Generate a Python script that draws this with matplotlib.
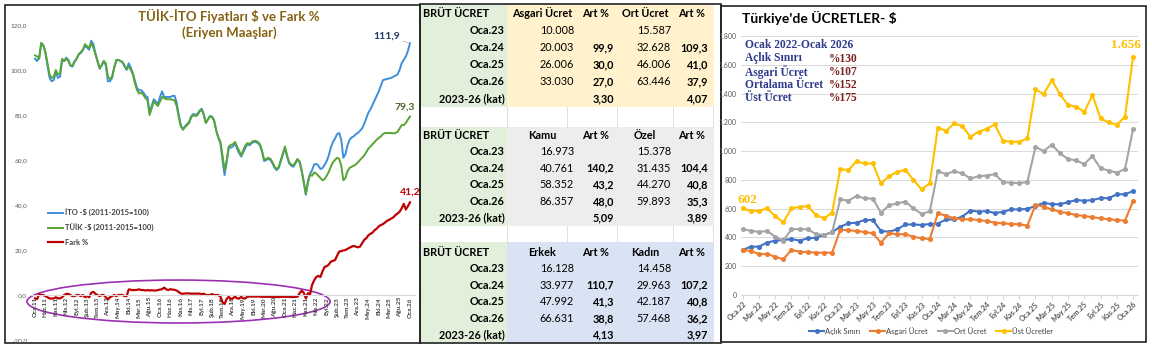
import matplotlib
matplotlib.use("Agg")
import matplotlib.pyplot as plt
from matplotlib.patches import Ellipse, Rectangle
from matplotlib.ticker import FuncFormatter

plt.rcParams['font.family'] = ['Lato', 'DejaVu Sans']

W, H = 1152, 347

# ---- left chart: TÜİK / İTO dollar prices (2011-2015=100), monthly Oca.11 - Oca.26
ito = [105, 104, 105.5, 112, 111, 107.5, 102, 96.5, 95, 95.5,
       99, 96.5, 97, 104, 104, 105.5, 104.5, 102, 101.5, 103.5,
       105, 107, 107.5, 109, 110.5, 110, 109, 113, 111.5, 107.5,
       104, 100.5, 102, 104, 102, 95, 95, 96.5, 101, 104,
       104.5, 104, 103.5, 101.5, 100, 103, 101, 98.5, 95, 92,
       91, 91, 90, 88.5, 88, 81, 84, 87, 86, 85,
       88, 90.5, 88, 88, 88, 88, 88.5, 88.5, 85.5, 80,
       75.5, 73.5, 75, 76, 77, 79.5, 80.5, 80, 80.5, 82,
       82.8, 80.5, 76.5, 78, 79.5, 79.3, 77.5, 73, 70, 67.5,
       60, 53.3, 59, 65.5, 65.5, 66, 67.5, 65, 63, 61.5,
       63.5, 65.5, 67, 66.5, 67.5, 68, 68, 67.5, 66.5, 63.5,
       59.5, 60, 60.5, 60, 58.5, 56.5, 55.5, 56.5, 59.5, 62.5,
       65.5, 61.5, 58.5, 57.5, 57, 58.5, 60, 59.5, 55.5, 50.5,
       44.5, 50.5, 53.7, 55.5, 58, 58.3, 57.5, 56, 56.4, 57.8,
       59.5, 62, 65.5, 68, 69.5, 71.5, 72, 69, 61, 62.5,
       66.5, 69, 70, 70.5, 71.5, 72, 73, 74, 76, 78.5,
       81, 82.5, 84.5, 86.5, 88.5, 90.5, 93, 95.5, 95.8, 96,
       96.3, 96.5, 97, 97.5, 98, 100, 103, 104.5, 106, 108.5,
       111.9]

tuik = [106.5, 106, 105, 112, 111, 108, 103, 98, 96.5, 97,
        100, 98, 98.5, 105, 104, 105, 104, 102, 102, 104,
        105, 107, 108, 109, 111.5, 110.5, 110, 112, 110, 107,
        104, 101, 102, 104, 103, 97, 96, 97, 101, 104.5,
        104.5, 104, 103.5, 102, 100.5, 101.5, 100, 98, 94, 91,
        89.5, 90, 89, 87.5, 86.5, 80, 83, 86, 85, 84,
        86, 88, 87.5, 87, 87, 87, 86.8, 86.5, 84, 79,
        75, 73.5, 74.5, 75.5, 76.5, 79, 80, 79.5, 80, 81.5,
        82.5, 80, 76.5, 78, 79.5, 79, 77.5, 73, 70, 68,
        62, 55.5, 60, 66, 66.7, 67, 68, 66, 64, 62,
        64.5, 66.5, 67.5, 67, 68, 68.5, 68.5, 68, 67, 64,
        60, 60.5, 61, 60.5, 59, 57, 56, 57, 60, 63,
        66, 62, 59, 58, 57.5, 59, 60.5, 59, 55, 50,
        45, 50, 53.5, 53, 54.5, 54, 53, 52, 51, 51.5,
        53, 54.7, 57, 59, 60, 61, 60.5, 57.5, 51, 52,
        55, 56.5, 57, 57.5, 58, 59, 60, 61, 62, 63.5,
        65, 66, 67, 68, 69, 69.8, 70.5, 71.5, 72, 72,
        72, 72, 71.8, 72, 72.5, 74, 75.5, 75.5, 76.5, 78,
        79.3]

fark = [-1.5, -1.8, 0.4, 0, 0, -0.5, -1, -1.5, -1.6, -1.5,
        -1, -1.5, -1.5, -1, 0, 0.5, 0.5, 0, -0.5, -0.5,
        0, 0, -0.5, 0, -1, -0.5, -1, 1, 1.4, 0.5,
        0, -0.5, 0, 0, -1, -2, -1, -0.5, 0, -0.5,
        0, 0, 0, -0.5, -0.5, 2.5, 2.3, 2.2, 2.2, 2.3,
        2.5, 2.2, 2.2, 2, 2.2, 2, 2.1, 2, 2, 2.2,
        2.4, 2.6, 3.3, 2.5, 2.2, 2.6, 2.4, 2.3, 2, 1.3,
        0.7, 0.5, 0.7, 0.7, 0.7, 0.6, 0.6, 0.6, 0.6, 0.6,
        0.4, 0.6, 0, 0, 0, 0.4, 0, 0, 0, -0.7,
        -3.2, -4, -1.7, -0.8, -1.8, -1.5, -0.7, -1.5, -1.6, -0.8,
        -1.6, -1.5, -0.7, -0.7, -0.7, -0.7, -0.7, -0.7, -0.7, -0.8,
        -0.8, -0.8, -0.8, -0.8, -0.8, -0.9, -0.9, -0.9, -0.8, -0.8,
        -0.8, -0.8, -0.8, -0.9, -0.9, -0.8, -0.8, 0.8, 1.9, 1,
        -1.5, 0.8, 0.3, 4.5, 6.5, 8, 8.5, 8, 10.5, 12.5,
        12.8, 13.5, 14.8, 15.2, 15.5, 17.5, 19.3, 19.5, 19.8, 20,
        20.5, 21, 21.5, 21.8, 21.5, 21.2, 21.5, 23, 24.5, 25.2,
        26.5, 27.2, 27.7, 28.8, 29.5, 30.5, 31.1, 31.5, 32.2, 33,
        33.4, 34, 34.5, 35.5, 36.2, 37, 38.5, 40.5, 38, 39.5,
        41.2]

left_labels = ["Oca.11", "Haz.11", "Kas.11", "Nis.12", "Eyl.12", "Şub.13", "Tem.13", "Ara.13",
               "May.14", "Eki.14", "Mar.15", "Ağu.15", "Oca.16", "Haz.16", "Kas.16", "Nis.17",
               "Eyl.17", "Şub.18", "Tem.18", "Ara.18", "May.19", "Eki.19", "Mar.20", "Ağu.20",
               "Oca.21", "Haz.21", "Kas.21", "Nis.22", "Eyl.22", "Şub.23", "Tem.23", "Ara.23",
               "May.24", "Eki.24", "Mar.25", "Ağu.25", "Oca.26"]

# ---- right chart: wages in $, monthly Oca.22 - Oca.26
aclik = [313, 336, 336, 364, 378, 382, 389, 378, 394, 398, 417, 436,
         475, 498, 503, 521, 521, 445, 440, 456, 490, 490, 487, 493,
         496, 525, 525, 545, 587, 580, 582, 570, 578, 595, 595, 598,
         620, 640, 632, 630, 645, 660, 655, 660, 673, 673, 700, 700, 722]
asgari = [313, 306, 285, 285, 266, 248, 313, 301, 299, 294, 294, 294,
          452, 450, 445, 438, 429, 364, 429, 422, 422, 405, 394, 389,
          568, 551, 533, 526, 526, 521, 514, 503, 498, 494, 491, 482,
          626, 614, 595, 579, 568, 556, 549, 540, 533, 526, 521, 517, 653]
ort = [456, 447, 438, 445, 405, 378, 456, 459, 456, 424, 417, 436,
       665, 656, 688, 672, 670, 572, 623, 637, 649, 602, 563, 582,
       860, 840, 860, 845, 810, 825, 830, 840, 785, 780, 778, 785,
       1030, 1000, 1045, 985, 945, 935, 910, 965, 880, 865, 850, 875, 1155]
ust = [602, 584, 584, 602, 549, 505, 602, 612, 618, 556, 533, 572,
       875, 868, 930, 914, 914, 776, 825, 856, 870, 800, 734, 776,
       1164, 1139, 1192, 1174, 1100, 1134, 1155, 1185, 1072, 1065, 1065, 1088,
       1429, 1396, 1494, 1396, 1320, 1308, 1273, 1389, 1227, 1199, 1183, 1239, 1656]

right_labels = ["Oca.22", "Mar.22", "May.22", "Tem.22", "Eyl.22", "Kas.22",
                "Oca.23", "Mar.23", "May.23", "Tem.23", "Eyl.23", "Kas.23",
                "Oca.24", "Mar.24", "May.24", "Tem.24", "Eyl.24", "Kas.24",
                "Oca.25", "Mar.25", "May.25", "Tem.25", "Eyl.25", "Kas.25", "Oca.26"]

box_names = ["Açlık Sınırı", "Asgari Ücret", "Ortalama Ücret", "Üst Ücret"]
box_pcts = [130, 107, 152, 175]

# ---- middle tables
years = ["Oca.23", "Oca.24", "Oca.25", "Oca.26"]
t1_heads = ["Asgari Ücret", "Ort Ücret"]
t1_a = [10008, 20003, 26006, 33030]
t1_a_art = [None, 99.9, 30.0, 27.0]
t1_b = [15587, 32628, 46006, 63446]
t1_b_art = [None, 109.3, 41.0, 37.9]
t1_kat = [3.30, 4.07]

t2_heads = ["Kamu", "Özel"]
t2_a = [16973, 40761, 58352, 86357]
t2_a_art = [None, 140.2, 43.2, 48.0]
t2_b = [15378, 31435, 44270, 59893]
t2_b_art = [None, 104.4, 40.8, 35.3]
t2_kat = [5.09, 3.89]

t3_heads = ["Erkek", "Kadın"]
t3_a = [16128, 33977, 47992, 66631]
t3_a_art = [None, 110.7, 41.3, 38.8]
t3_b = [14458, 29963, 42187, 57468]
t3_b_art = [None, 107.2, 40.8, 36.2]
t3_kat = [4.13, 3.97]


def tr_int(v):
    return f"{v:,}".replace(",", ".")


def tr_dec(v, n=1):
    return f"{v:.{n}f}".replace(".", ",")


fig = plt.figure(figsize=(W / 100, H / 100), dpi=100)


def px_axes(x0, y0, x1, y1, **kw):
    return fig.add_axes([x0 / W, 1 - y1 / H, (x1 - x0) / W, (y1 - y0) / H], **kw)


# pixel canvas for tables and frames
bg = px_axes(0, 0, W, H, zorder=0)
bg.set_xlim(0, W)
bg.set_ylim(H, 0)
bg.axis('off')

tables = [
    (t1_heads, t1_a, t1_a_art, t1_b, t1_b_art, t1_kat, 5, 107, '#FFF2CC', 13),
    (t2_heads, t2_a, t2_a_art, t2_b, t2_b_art, t2_kat, 127, 226, '#EDEDED', 135),
    (t3_heads, t3_a, t3_a_art, t3_b, t3_b_art, t3_kat, 242, 343, '#DAE3F3', 252),
]
fs = 7.8
for heads, a, a_art, b, b_art, kat, top, bot, col, hy in tables:
    bg.add_patch(Rectangle((421, top), 86, bot - top, color='#E2EFDA', lw=0))
    bg.add_patch(Rectangle((507, top), 207, bot - top, color=col, lw=0))
    step = (bot - 8 - hy) / 5
    bg.text(423, hy, "BRÜT ÜCRET", ha='left', va='center', fontsize=fs, weight='bold')
    bg.text(542, hy, heads[0], ha='center', va='center', fontsize=fs, weight='bold')
    bg.text(596, hy, "Art %", ha='center', va='center', fontsize=fs, weight='bold')
    bg.text(645, hy, heads[1], ha='center', va='center', fontsize=fs, weight='bold')
    bg.text(692, hy, "Art %", ha='center', va='center', fontsize=fs, weight='bold')
    for i, yr in enumerate(years):
        y = hy + step * (i + 1)
        bg.text(505, y, yr, ha='right', va='center', fontsize=fs, weight='bold')
        bg.text(574, y, tr_int(a[i]), ha='right', va='center', fontsize=fs)
        bg.text(671, y, tr_int(b[i]), ha='right', va='center', fontsize=fs)
        if a_art[i] is not None:
            bg.text(614, y, tr_dec(a_art[i]), ha='right', va='center', fontsize=fs, weight='bold')
            bg.text(708, y, tr_dec(b_art[i]), ha='right', va='center', fontsize=fs, weight='bold')
    y = hy + step * 5
    bg.text(505, y, "2023-26 (kat)", ha='right', va='center', fontsize=fs, weight='bold')
    bg.text(614, y, tr_dec(kat[0], 2), ha='right', va='center', fontsize=fs, weight='bold')
    bg.text(708, y, tr_dec(kat[1], 2), ha='right', va='center', fontsize=fs, weight='bold')

for gx in [507, 567, 617, 673, 713]:
    bg.plot([gx, gx], [107, 127], color='#D9D9D9', lw=0.6)
    bg.plot([gx, gx], [226, 242], color='#D9D9D9', lw=0.6)

for (x0, y0, x1, y1) in [(5, 5, 420, 343), (420, 4, 721, 343), (721, 6, 1146, 342)]:
    bg.add_patch(Rectangle((x0, y0), x1 - x0, y1 - y0, fill=False, ec='#222222', lw=1.2))

# ---- left chart
ax1 = px_axes(30, 25, 415, 340, zorder=2)
ax1.patch.set_alpha(0)
xm = range(len(ito))
ax1.plot(xm, ito, color='#3F8EDB', lw=1.4, label="İTO -$ (2011-2015=100)")
ax1.plot(xm, tuik, color='#57A532', lw=1.4, label="TÜİK -$ (2011-2015=100)")
ax1.plot(xm, fark, color='#C00000', lw=1.6, label="Fark %")
ax1.set_xlim(-2.4, 182.4)
ax1.set_ylim(-20, 120)
for s in ['top', 'right', 'left']:
    ax1.spines[s].set_visible(False)
ax1.spines['bottom'].set_position(('data', 0))
ax1.spines['bottom'].set_color('#D9D9D9')
ax1.set_xticks(range(0, 181, 5))
ax1.set_xticklabels(left_labels, rotation=90, fontsize=4.6, weight='bold', color='#404040')
ax1.set_yticks(range(-20, 121, 20))
ax1.yaxis.set_major_formatter(FuncFormatter(lambda v, p: tr_dec(v)))
ax1.tick_params(axis='y', length=0, labelsize=4.6, labelcolor='#595959', pad=2)
ax1.tick_params(axis='x', length=0, pad=1.5)
ax1.add_patch(Ellipse((68.9, -2.9), 145.5, 19.1, fill=False, ec='#9B30B0', lw=1.2, clip_on=False))
ax1.legend(loc='upper left', bbox_to_anchor=(48 / W, 1 - 209 / H), bbox_transform=fig.transFigure,
           frameon=False, prop={'size': 5.5, 'weight': 'bold'}, labelcolor='#404040',
           handlelength=2.0, handletextpad=0.2, labelspacing=0.9, borderpad=0, borderaxespad=0)
ax1.annotate(tr_dec(ito[-1]), xy=(180, ito[-1]), xytext=(-7, 5), textcoords='offset points',
             ha='right', va='center', fontsize=7.5, weight='bold', color='#1F3864',
             arrowprops=dict(arrowstyle='-', color='#A6A6A6', lw=0.5, shrinkA=0, shrinkB=0))
ax1.annotate(tr_dec(tuik[-1]), xy=(180, tuik[-1]), xytext=(-4, 7), textcoords='offset points',
             ha='center', va='center', fontsize=7.5, weight='bold', color='#4F6228')
ax1.annotate(tr_dec(fark[-1]), xy=(180, fark[-1]), xytext=(0, 7.6), textcoords='offset points',
             ha='center', va='center', fontsize=7.5, weight='bold', color='#C00000')
fig.text(229 / W, 1 - 16 / H, "TÜİK-İTO Fiyatları $ ve Fark %", ha='center', va='center',
         fontsize=9.5, weight='bold', color='#856212')
fig.text(229 / W, 1 - 33 / H, "(Eriyen Maaşlar)", ha='center', va='center',
         fontsize=9.5, weight='bold', color='#856212')

# ---- right chart
ax2 = px_axes(741, 36, 1138, 295, zorder=2)
ax2.patch.set_alpha(0)
xr = range(len(aclik))
series = [(aclik, '#4472C4', "Açlık Sınırı"), (asgari, '#ED7D31', "Asgari Ücret"),
          (ort, '#A5A5A5', "Ort Ücret"), (ust, '#FFC000', "Üst Ücretler")]
for vals, c, lab in series:
    ax2.plot(xr, vals, color=c, lw=1.5, marker='o', ms=2.6, label=lab)
ax2.set_xlim(-0.2, 48.6)
ax2.set_ylim(0, 1800)
ax2.set_yticks(range(0, 1801, 200))
ax2.yaxis.set_major_formatter(FuncFormatter(lambda v, p: tr_int(int(v))))
ax2.grid(axis='y', color='#D9D9D9', lw=0.7)
ax2.set_axisbelow(True)
for s in ['top', 'right', 'left']:
    ax2.spines[s].set_visible(False)
ax2.spines['bottom'].set_color('#D9D9D9')
ax2.set_xticks(range(0, 49, 2))
ax2.set_xticklabels(right_labels, rotation=45, ha='right', rotation_mode='anchor',
                    fontsize=5.3, weight='bold', color='#595959')
ax2.tick_params(axis='x', length=3, color='#D9D9D9', pad=1)
ax2.tick_params(axis='y', length=0, labelsize=5, labelcolor='#595959', pad=3)
ax2.legend(loc='center', bbox_to_anchor=(931 / W, 1 - 331 / H), bbox_transform=fig.transFigure,
           ncol=4, frameon=False, fontsize=5.5, labelcolor='#404040', handlelength=2.0,
           handletextpad=0.1, columnspacing=1.3, borderpad=0, borderaxespad=0)
fig.text(742 / W, 1 - 18 / H, "Türkiye'de ÜCRETLER- $", ha='left', va='center',
         fontsize=10, weight='bold', color='black')

serif = ['Liberation Serif', 'DejaVu Serif']
fig.text(745 / W, 1 - 45 / H, "Ocak 2022-Ocak 2026", ha='left', va='center', family=serif,
         fontsize=8.3, weight='bold', color='#2E3A8C')
for i, (nm, pc) in enumerate(zip(box_names, box_pcts)):
    y = 58.5 + 13.3 * i
    fig.text(745 / W, 1 - y / H, nm, ha='left', va='center', family=serif,
             fontsize=8.3, weight='bold', color='#2E3A8C')
    fig.text(829 / W, 1 - y / H, "%" + str(pc), ha='left', va='center', family=serif,
             fontsize=8.3, weight='bold', color='#7B1F1F')
ax2.annotate(str(ust[0]), xy=(0, ust[0]), xytext=(3.6, 6), textcoords='offset points',
             ha='center', va='center', family=serif, fontsize=9.5, weight='bold', color='#FFC000')
ax2.annotate(tr_int(ust[-1]), xy=(48, ust[-1]), xytext=(-5.5, 8.5), textcoords='offset points',
             ha='center', va='center', family=serif, fontsize=9.5, weight='bold', color='#FFC000')

fig.savefig("out.png", dpi=100)
